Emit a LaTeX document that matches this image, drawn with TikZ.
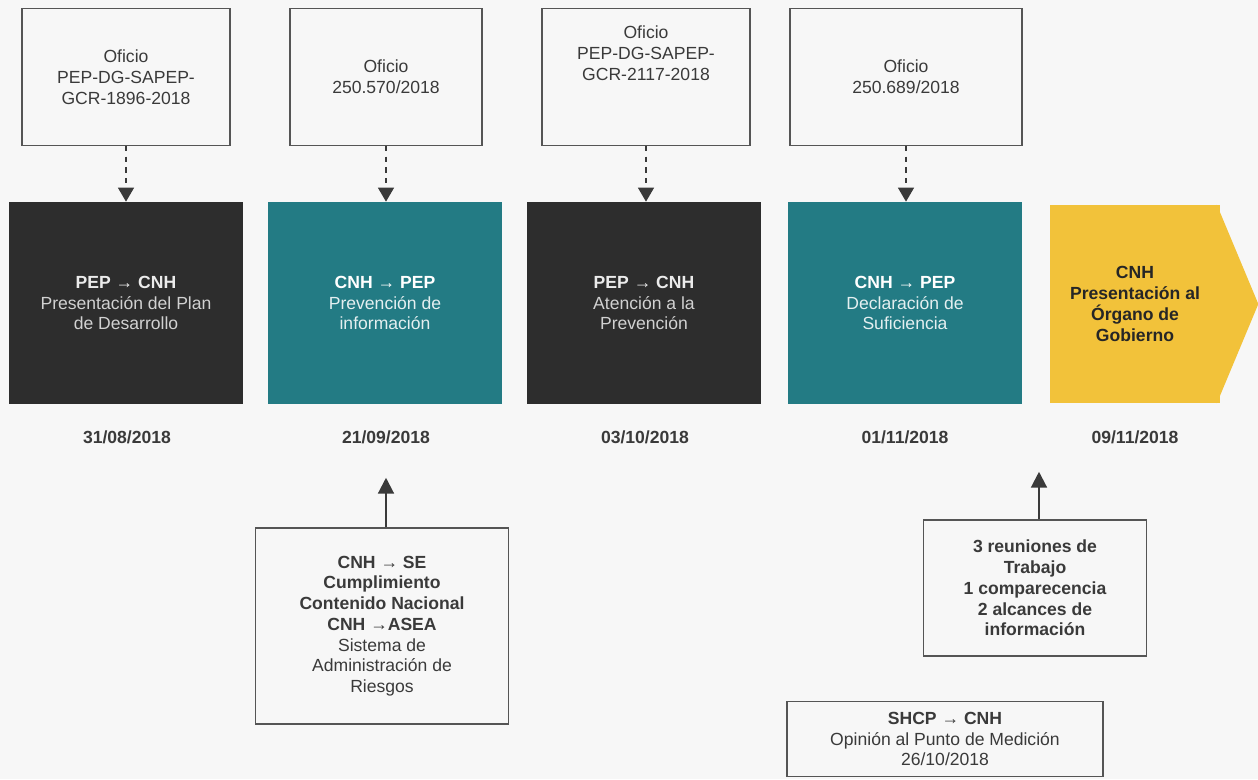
\documentclass[tikz,border=0pt]{standalone}
\usepackage{fontspec}
\setmainfont{Liberation Sans}
\usetikzlibrary{arrows.meta,positioning}
\definecolor{fondo}{HTML}{F7F7F7}
\definecolor{oscuro}{HTML}{2D2D2D}
\definecolor{verde}{HTML}{237B84}
\definecolor{oro}{HTML}{F2C23A}
\definecolor{linea}{HTML}{555555}
\definecolor{letra}{HTML}{3A3A3A}

\begin{document}
\begin{tikzpicture}[x=0.02cm, y=-0.02cm,
    every node/.style={font=\fontsize{10}{11.8}\selectfont},
    oficio/.style={draw=linea, line width=0.8pt, align=center, text=letra, minimum height=2.74cm},
    etapa/.style={align=center, minimum width=4.7cm, minimum height=4.04cm},
    fecha/.style={font=\fontsize{10}{11.8}\selectfont\bfseries, text=letra},
    nota/.style={draw=linea, line width=0.8pt, align=center, text=letra},
    punteada/.style={dashed, line width=1.2pt, draw=letra, -{Triangle[width=9pt,length=8pt]}},
    sube/.style={line width=1.2pt, draw=letra, -{Triangle[width=9pt,length=9pt]}}]
    \fill[fondo] (0,0) rectangle (1258,779); % background
    \useasboundingbox (0,0) rectangle (1258,779);

    % oficios
    \node[oficio, minimum width=4.16cm] (of1) at (126,77) {Oficio\\PEP-DG-SAPEP-\\GCR-1896-2018};
    \node[oficio, minimum width=3.84cm] (of2) at (386,77) {Oficio\\250.570/2018};
    \node[oficio, minimum width=4.16cm] (of3) at (646,77) {};
    \node[align=center, text=letra] (of3t) at (646,53) {Oficio\\PEP-DG-SAPEP-\\GCR-2117-2018};
    \node[oficio, minimum width=4.64cm] (of4) at (906,77) {Oficio\\250.689/2018};

    % etapas
    \node[etapa, fill=oscuro, text=white!82!black] (s1) at (126,303) {\textcolor{white!92!black}{\bfseries PEP → CNH}\\Presentación del Plan\\de Desarrollo};
    \node[etapa, fill=verde, text=white!88!verde] (s2) at (385,303) {\textcolor{white}{\bfseries CNH → PEP}\\Prevención de\\información};
    \node[etapa, fill=oscuro, text=white!82!black] (s3) at (644,303) {\textcolor{white!92!black}{\bfseries PEP → CNH}\\Atención a la\\Prevención};
    \node[etapa, fill=verde, text=white!88!verde] (s4) at (905,303) {\textcolor{white}{\bfseries CNH → PEP}\\Declaración de\\Suficiencia};
    \node[etapa, fill=oro, text=black!85, minimum width=3.4cm, minimum height=3.96cm, font=\fontsize{10}{11.8}\selectfont\bfseries] (s5) at (1135,304) {CNH\\Presentación al\\Órgano de\\Gobierno};
    \fill[oro] ([xshift=-2pt]s5.north east) -- ([xshift=0.76cm]s5.east) -- ([xshift=-2pt]s5.south east) -- cycle; % tip

    % fechas
    \node[fecha] (d1) at (127,437) {31/08/2018};
    \node[fecha] (d2) at (386,437) {21/09/2018};
    \node[fecha] (d3) at (645,437) {03/10/2018};
    \node[fecha] (d4) at (905,437) {01/11/2018};
    \node[fecha] (d5) at (1135,437) {09/11/2018};

    \draw[punteada] (of1.south) -- (of1.south |- s1.north);
    \draw[punteada] (of2.south) -- (of2.south |- s2.north);
    \draw[punteada] (of3.south) -- (of3.south |- s3.north);
    \draw[punteada] (of4.south) -- (of4.south |- s4.north);

    % notas
    \node[nota, minimum width=5.06cm, minimum height=3.92cm] (n1) at (382,626) {\textbf{CNH → SE}\\\textbf{Cumplimiento}\\\textbf{Contenido Nacional}\\\textbf{CNH →ASEA}\\Sistema de\\Administración de\\Riesgos};
    \node[nota, minimum width=4.46cm, minimum height=2.72cm, font=\fontsize{10}{11.8}\selectfont\bfseries] (n2) at (1035,588) {3 reuniones de\\Trabajo\\1 comparecencia\\2 alcances de\\información};
    \node[nota, minimum width=6.32cm, minimum height=1.5cm] (n3) at (945,739) {\textbf{SHCP → CNH}\\Opinión al Punto de Medición\\26/10/2018};

    \draw[sube, shorten >=0.56cm] (n1.north -| d2) -- (d2.south); % to 21/09
    \draw[sube, shorten >=0.44cm] ([xshift=0.08cm]n2.north) -- ([xshift=0.08cm]n2.north |- d5.south); % to 09/11
\end{tikzpicture}
\end{document}
